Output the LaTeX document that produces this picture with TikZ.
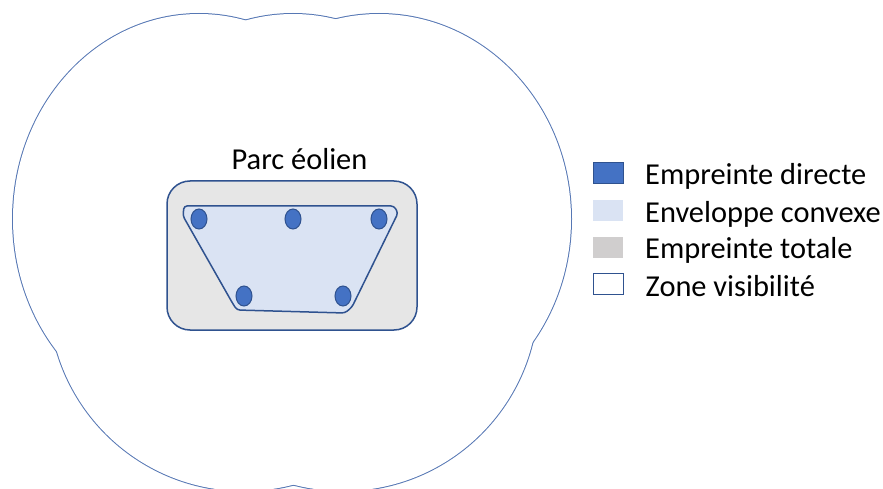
\documentclass[tikz,border=0pt]{standalone}
\usepackage{fontspec}
\setmainfont{Carlito}
\definecolor{dirblue}{HTML}{4472C4}
\definecolor{darkblue}{HTML}{2F528F}
\definecolor{hullfill}{HTML}{DAE3F3}
\definecolor{parkgray}{HTML}{E6E6E6}
\definecolor{leggray}{HTML}{D0CECE}
\definecolor{zoneline}{HTML}{5677B4}
\tikzset{
  turbine/.style={draw=darkblue, line width=1pt, fill=dirblue},
  legsq/.style={minimum width=30pt, minimum height=21pt, inner sep=0pt, outer sep=0pt},
  legtxt/.style={anchor=base west, inner sep=0pt, font=\fontsize{30.4}{36}\selectfont},
}
\begin{document}
\begin{tikzpicture}[x=1pt,y=-1pt]
\useasboundingbox (0,0) rectangle (883,489);
\fill[white] (0,0) rectangle (883,489);
% zone de visibilite: union of ellipses
\foreach \cx/\cy/\a/\b in {199/219/186/205, 293/219/189/205, 379/219/192/205, 244/296/195/195, 343/296/195/195}
  \draw[zoneline, line width=2pt] (\cx,\cy) ellipse [x radius=\a, y radius=\b];
\foreach \cx/\cy/\a/\b in {199/219/186/205, 293/219/189/205, 379/219/192/205, 244/296/195/195, 343/296/195/195}
  \fill[white] (\cx,\cy) ellipse [x radius=\a, y radius=\b];
% empreinte totale
\draw[darkblue, line width=1.5pt, fill=parkgray, rounded corners=23pt] (167,181) rectangle (417,330);
% enveloppe convexe
\draw[darkblue, line width=1.5pt, fill=hullfill, rounded corners=3pt]
  (184,206) -- (394,206) -- (398,213) -- (352,307) -- (345,313) -- (237,310) -- (233,304) -- (183,216) -- cycle;
% turbines
\foreach \cx/\cy in {199/219, 293/219, 379/219, 244/296, 343/296}
  \draw[turbine] (\cx,\cy) ellipse [x radius=8, y radius=10];
% title
\node[anchor=base, inner sep=0pt, font=\fontsize{30.4}{36}\selectfont] (title) at (299.5,169.5) {Parc éolien};
% legend
\node[legsq, draw=darkblue, line width=1pt, fill=dirblue] (k1) at (608,173.5) {};
\node[legsq, fill=hullfill] (k2) at (608,210.5) {};
\node[legsq, fill=leggray] (k3) at (608,247) {};
\node[legsq, draw=darkblue, line width=1pt, fill=white] (k4) at (608,284) {};
\node[legtxt] (t1) at (645,185) {Empreinte directe};
\node[legtxt] (t2) at (645,222.5) {Enveloppe convexe};
\node[legtxt] (t3) at (645,258.5) {Empreinte totale};
\node[legtxt] (t4) at (645.5,296.7) {Zone visibilité};
\end{tikzpicture}
\end{document}
